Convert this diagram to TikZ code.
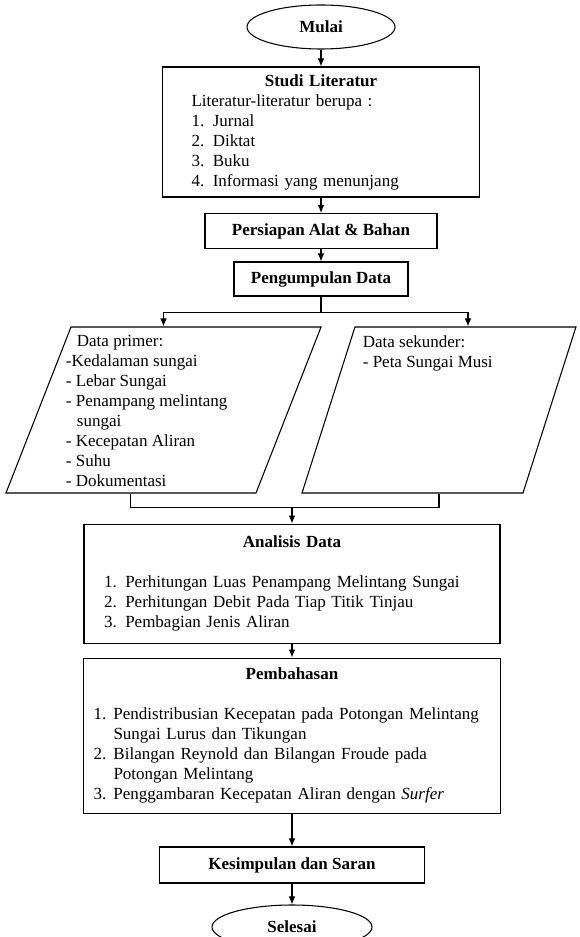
\documentclass[tikz,border=0pt]{standalone}
\usepackage{fontspec}
\setmainfont{Liberation Serif}
\usetikzlibrary{shapes,positioning,arrows.meta}
\tikzstyle{term}=[draw,ellipse,line width=.8pt,minimum width=111pt,
minimum height=33pt,inner sep=0pt]
\tikzstyle{proc}=[draw,rectangle,line width=.8pt,inner sep=0pt]
\tikzstyle{io}=[draw,trapezium,line width=.8pt,text height=124.5pt,
text depth=0pt,inner sep=0pt]
\tikzstyle{flow}=[->,line width=.8pt]

\begin{document}
\begin{tikzpicture}[>={Latex[length=6pt,width=5pt]}, on grid,
  font=\fontsize{12.75}{15}\selectfont]
  \useasboundingbox (0,0) rectangle (434.25pt,-702.75pt);
  \node[term] (mulai) at (240.75pt,-20.25pt) {\textbf{Mulai}};
  \node[proc, below=78.75pt of mulai, text width=194.25pt, inner xsep=21.75pt,
  minimum height=97.5pt, align=left] (studi)
  {{\centering\textbf{Studi Literatur}\par}Literatur-literatur berupa :\\
  1. Jurnal\\2. Diktat\\3. Buku\\4. Informasi yang menunjang};
  \node[proc, below=74.25pt of studi, minimum width=174pt,
  minimum height=26.25pt] (alat) {\textbf{Persiapan Alat \& Bahan}};
  \node[proc, below=36pt of alat, minimum width=130.5pt,
  minimum height=25.5pt] (kumpul) {\textbf{Pengumpulan Data}};

  \node[io, below left=98.25pt and 118.125pt of kumpul, text width=138.75pt,
  trapezium left angle=68.6, trapezium right angle=111.4] (primer) {};
  \node[io, right=206.6pt of primer, text width=126pt,
  trapezium left angle=72.3, trapezium right angle=107.7] (sekunder) {};
  \node[anchor=north west, align=left, inner sep=0pt] (teksprimer)
  at ([xshift=-3.75pt,yshift=-6.75pt]primer.top left corner)
  {\hspace*{8.25pt}Data primer:\\-Kedalaman sungai\\- Lebar Sungai\\
  - Penampang melintang\\\hspace*{8.25pt}sungai\\- Kecepatan Aliran\\
  - Suhu\\- Dokumentasi};
  \node[anchor=north west, align=left, inner sep=0pt] (tekssekunder)
  at ([xshift=6pt,yshift=-6.75pt]sekunder.top left corner)
  {Data sekunder:\\- Peta Sungai Musi};

  \node[proc, below left=228.4pt and 21.75pt of kumpul, text width=282pt,
  inner xsep=15pt, minimum height=89.25pt, align=left] (analisis)
  {{\centering\textbf{Analisis Data}\par}\vspace{15pt}
  1. Perhitungan Luas Penampang Melintang Sungai\\
  2. Perhitungan Debit Pada Tiap Titik Tinjau\\
  3. Pembagian Jenis Aliran};
  \node[proc, below=114pt of analisis, text width=297.75pt, inner xsep=7.5pt,
  minimum height=116.25pt, align=left] (bahas)
  {{\centering\textbf{Pembahasan}\par}\vspace{15pt}
  \makebox[15pt][l]{1.}Pendistribusian Kecepatan pada Potongan Melintang\\
  \hspace*{15pt}Sungai Lurus dan Tikungan\\
  \makebox[15pt][l]{2.}Bilangan Reynold dan Bilangan Froude pada\\
  \hspace*{15pt}Potongan Melintang\\
  \makebox[15pt][l]{3.}Penggambaran Kecepatan Aliran dengan \textit{Surfer}};
  \node[proc, below=97.1pt of bahas, minimum width=198.75pt,
  minimum height=27pt] (simpul) {\textbf{Kesimpulan dan Saran}};
  \node[term, below=46.5pt of simpul, minimum width=120pt] (selesai)
  {\textbf{Selesai}};

  \draw[flow] (mulai) -- (studi);
  \draw[flow] (studi) -- (alat);
  \draw[flow] (alat) -- (kumpul);
  \draw[line width=.8pt] (kumpul.south) -- ++(0,-12pt) coordinate (cabang);
  \draw[flow] (cabang) -| (primer.north);
  \draw[flow] (cabang) -| ([xshift=21.75pt]sekunder.north);
  \coordinate[above=12pt of analisis.north] (gabung);
  \draw[line width=.8pt] (primer.bottom side) |- (gabung) -| (sekunder.south);
  \draw[flow] (gabung) -- (analisis);
  \draw[flow] (analisis) -- (bahas);
  \draw[flow] (bahas) -- (simpul);
  \draw[flow] (simpul) -- (selesai);
\end{tikzpicture}
\end{document}
